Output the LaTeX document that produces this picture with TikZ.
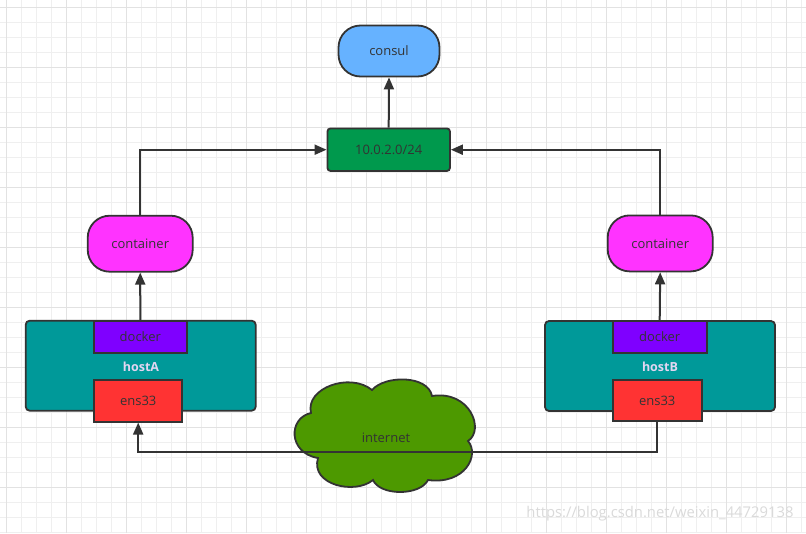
\documentclass[tikz,border=0pt]{standalone}
\usepackage{fontspec}
\setmainfont{Open Sans}
\usetikzlibrary{arrows.meta}
\definecolor{edge}{HTML}{333333}
\definecolor{txt}{HTML}{333333}
\definecolor{consulc}{HTML}{66B2FF}
\definecolor{netc}{HTML}{00994D}
\definecolor{contc}{HTML}{FF33FF}
\definecolor{hostc}{HTML}{009999}
\definecolor{dockc}{HTML}{7F00FF}
\definecolor{ensc}{HTML}{FF3333}
\definecolor{cloudc}{HTML}{4D9900}
\definecolor{minorg}{HTML}{EFEFEF}
\definecolor{majorg}{HTML}{E2E2E2}
\definecolor{hostlbl}{HTML}{E3D6F2}
\definecolor{wm}{HTML}{DADADA}
\tikzset{
  box/.style={draw=edge, line width=1.8pt, inner sep=0pt, text=txt, font=\fontsize{13}{15}\selectfont},
  pill/.style={box, rounded corners=22pt},
  sq/.style={box, rounded corners=3pt},
  conn/.style={draw=edge, line width=2pt},
  arr/.style={conn, -{Triangle[length=12pt,width=10pt]}},
  minorline/.style={draw=minorg, line width=1pt},
  majorline/.style={draw=majorg, line width=1pt},
}
\begin{document}
\begin{tikzpicture}[x=1pt,y=-1pt]
\useasboundingbox (0,0) rectangle (806,533);
\fill[white] (0,0) rectangle (806,533);
% grid
\foreach \i in {0,...,53} {
  \pgfmathsetmacro\gx{6.7+15*\i}
  \draw[minorline] (\gx,0) -- (\gx,533);
}
\foreach \i in {0,...,35} {
  \pgfmathsetmacro\gy{7.3+15*\i}
  \draw[minorline] (0,\gy) -- (806,\gy);
}
\foreach \i in {0,...,13} {
  \pgfmathsetmacro\gx{6.7+60*\i}
  \draw[majorline] (\gx,0) -- (\gx,533);
}
\foreach \i in {0,...,8} {
  \pgfmathsetmacro\gy{7.3+60*\i}
  \draw[majorline] (0,\gy) -- (806,\gy);
}
% nodes
\node[pill, fill=consulc, minimum width=101pt, minimum height=51pt] (consul) at (389,51) {consul};
\node[sq, fill=netc, minimum width=122.5pt, minimum height=42.5pt] (net) at (388.7,149.7) {10.0.2.0/24};
\node[pill, fill=contc, minimum width=105pt, minimum height=56pt] (cA) at (140.2,243.7) {container};
\node[pill, fill=contc, minimum width=105pt, minimum height=56pt] (cB) at (660.2,243.4) {container};
\node[sq, fill=hostc, minimum width=230pt, minimum height=90pt, rounded corners=4pt] (hA) at (140.7,365.7) {};
\node[sq, fill=hostc, minimum width=230pt, minimum height=90pt, rounded corners=4pt] (hB) at (660,366) {};
\node[box, fill=dockc, minimum width=92.7pt, minimum height=32.6pt] (dA) at (140.3,337) {docker};
\node[box, fill=dockc, minimum width=94pt, minimum height=32pt] (dB) at (659.7,337) {docker};
\node[box, fill=ensc, minimum width=88.3pt, minimum height=41.7pt] (eA) at (138.2,400.8) {ens33};
\node[box, fill=ensc, minimum width=89pt, minimum height=41pt] (eB) at (657.2,400.5) {ens33};
\node[text=hostlbl, font=\fontsize{12.5}{15}\selectfont\bfseries] (lA) at (141,366.7) {hostA};
\node[text=hostlbl, font=\fontsize{12.5}{15}\selectfont\bfseries] (lB) at (660,366.5) {hostB};
% cloud
\draw[draw=edge, line width=1.8pt, fill=cloudc]
  (318,458) .. controls (288,453) and (288,418) .. (311,413)
  .. controls (305,388) and (350,372) .. (372,390)
  .. controls (385,375) and (428,375) .. (432,396)
  .. controls (470,390) and (485,430) .. (468,441)
  .. controls (480,455) and (465,485) .. (428,480)
  .. controls (420,496) and (380,496) .. (373,480)
  .. controls (355,495) and (310,485) .. (318,458) -- cycle;
\node[text=txt, font=\fontsize{13}{15}\selectfont] (inet) at (386,437.5) {internet};
% connectors
\draw[arr] (net.north) -- (consul.south);
\draw[arr] (cA.north) |- (net.west);
\draw[arr] (cB.north) |- (net.east);
\draw[arr] (dA.north) -- (cA.south);
\draw[arr] (dB.north) -- (cB.south);
\coordinate (bendA) at (138.2,452);
\draw[arr] (eB.south) |- (bendA) -- (eA.south);
% watermark
\node[text=wm, font=\fontsize{14.8}{17}\selectfont, anchor=east] (wmk) at (797,513.5) {https://blog.csdn.net/weixin\_44729138};
\end{tikzpicture}
\end{document}
